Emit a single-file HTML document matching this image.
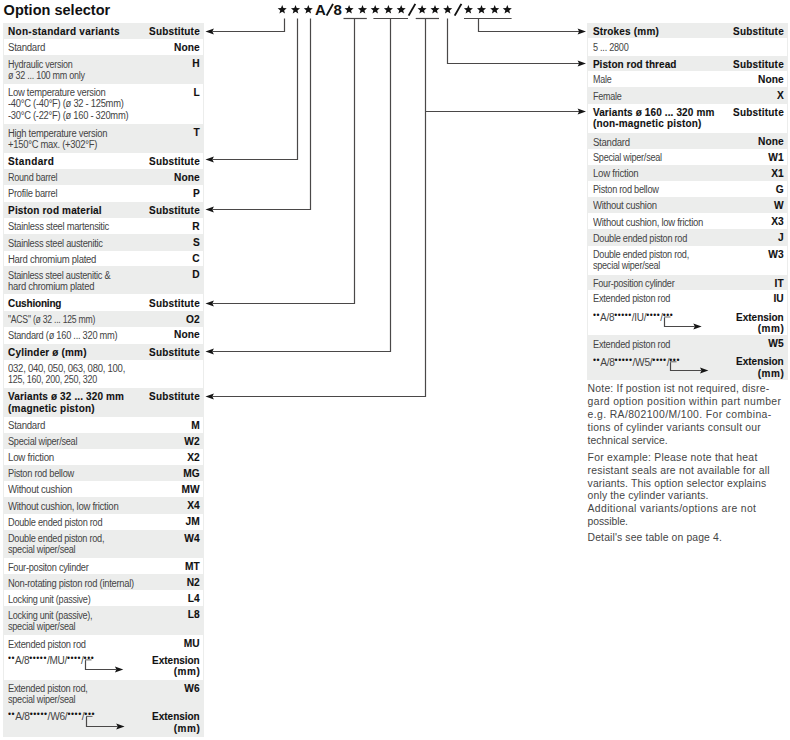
<!DOCTYPE html>
<html><head><meta charset="utf-8"><title>Option selector</title><style>
html,body{margin:0;padding:0;width:790px;height:740px;overflow:hidden;background:#fff}
.t{position:absolute;white-space:nowrap;transform-origin:0 0;font-family:"Liberation Sans",sans-serif;line-height:12px;height:12px}
.r{font-size:10.0px;color:#444444}
.b{font-size:10.0px;color:#111111;font-weight:700;-webkit-text-stroke:0.1px #111}
.n{font-size:10.4px;color:#454545}
.v{font-size:10.2px;color:#111111;font-weight:700;-webkit-text-stroke:0.1px #111}
.d{font-size:8.5px;letter-spacing:0.55px;vertical-align:3.2px;line-height:0;color:#111}
.ti{font-size:14.5px;color:#111111;font-weight:700}
.bg{position:absolute;background:#ecedec}
.wh{position:absolute;background:#fff}
svg{position:absolute;left:0;top:0}
.ln{fill:none;stroke:#4a4848;stroke-width:1.2}
.ln2{fill:none;stroke:#3c3c3c;stroke-width:0.8}
.ah{fill:#151515}
.st{fill:#121212}
.sl{stroke:#121212;stroke-width:1.9}
.code{font-family:"Liberation Sans",sans-serif;font-weight:700;font-size:15px;fill:#121212}
</style></head><body>
<div class="bg" style="left:3px;top:22.6px;width:201px;height:714.00px"></div>
<div class="wh" style="left:4px;top:39.0px;width:199px;height:16.10px"></div>
<div class="wh" style="left:4px;top:83.7px;width:199px;height:40.60px"></div>
<div class="wh" style="left:4px;top:152.9px;width:199px;height:15.80px"></div>
<div class="wh" style="left:4px;top:185.0px;width:199px;height:16.90px"></div>
<div class="wh" style="left:4px;top:218.0px;width:199px;height:16.20px"></div>
<div class="wh" style="left:4px;top:250.5px;width:199px;height:15.80px"></div>
<div class="wh" style="left:4px;top:294.4px;width:199px;height:16.60px"></div>
<div class="wh" style="left:4px;top:326.5px;width:199px;height:17.00px"></div>
<div class="wh" style="left:4px;top:359.7px;width:199px;height:28.20px"></div>
<div class="wh" style="left:4px;top:417.0px;width:199px;height:15.60px"></div>
<div class="wh" style="left:4px;top:448.8px;width:199px;height:16.00px"></div>
<div class="wh" style="left:4px;top:480.8px;width:199px;height:16.50px"></div>
<div class="wh" style="left:4px;top:513.5px;width:199px;height:16.20px"></div>
<div class="wh" style="left:4px;top:558.1px;width:199px;height:16.20px"></div>
<div class="wh" style="left:4px;top:590.1px;width:199px;height:16.20px"></div>
<div class="wh" style="left:4px;top:635.1px;width:199px;height:44.50px"></div>
<div class="bg" style="left:587px;top:23.0px;width:201px;height:356.60px"></div>
<div class="wh" style="left:588px;top:38.3px;width:199px;height:17.40px"></div>
<div class="wh" style="left:588px;top:70.9px;width:199px;height:16.40px"></div>
<div class="wh" style="left:588px;top:103.8px;width:199px;height:29.30px"></div>
<div class="wh" style="left:588px;top:148.9px;width:199px;height:15.90px"></div>
<div class="wh" style="left:588px;top:180.9px;width:199px;height:16.00px"></div>
<div class="wh" style="left:588px;top:213.2px;width:199px;height:16.20px"></div>
<div class="wh" style="left:588px;top:245.7px;width:199px;height:29.10px"></div>
<div class="wh" style="left:588px;top:290.0px;width:199px;height:45.20px"></div>
<div class="t b" style="left:8.10px;top:25.93px;letter-spacing:0.268px">Non-standard variants</div>
<div class="t b" style="right:590.10px;top:25.93px;letter-spacing:0.200px">Substitute</div>
<div class="t r" style="left:8.10px;top:42.44px;letter-spacing:-0.280px;transform:scaleX(0.9653)">Standard</div>
<div class="t v" style="right:590.25px;top:41.97px;letter-spacing:0.050px">None</div>
<div class="t r" style="left:8.10px;top:58.73px;letter-spacing:-0.280px;transform:scaleX(0.8959)">Hydraulic version</div>
<div class="t r" style="left:8.10px;top:70.03px;letter-spacing:-0.280px;transform:scaleX(0.8970)">ø 32 ... 100 mm only</div>
<div class="t v" style="right:590.25px;top:58.27px;letter-spacing:0.050px">H</div>
<div class="t r" style="left:8.10px;top:87.14px;letter-spacing:-0.280px;transform:scaleX(0.9412)">Low temperature version</div>
<div class="t r" style="left:8.10px;top:98.44px;letter-spacing:-0.280px;transform:scaleX(0.9354)">-40°C (-40°F) (ø 32 - 125mm)</div>
<div class="t r" style="left:8.10px;top:109.74px;letter-spacing:-0.280px;transform:scaleX(0.9336)">-30°C (-22°F) (ø 160 - 320mm)</div>
<div class="t v" style="right:590.25px;top:86.67px;letter-spacing:0.050px">L</div>
<div class="t r" style="left:8.10px;top:127.73px;letter-spacing:-0.280px;transform:scaleX(0.9391)">High temperature version</div>
<div class="t r" style="left:8.10px;top:139.03px;letter-spacing:-0.280px;transform:scaleX(0.9405)">+150°C max. (+302°F)</div>
<div class="t v" style="right:590.25px;top:127.27px;letter-spacing:0.050px">T</div>
<div class="t b" style="left:8.10px;top:156.24px;letter-spacing:0.351px">Standard</div>
<div class="t b" style="right:590.10px;top:156.24px;letter-spacing:0.200px">Substitute</div>
<div class="t r" style="left:8.10px;top:172.13px;letter-spacing:-0.280px;transform:scaleX(0.9062)">Round barrel</div>
<div class="t v" style="right:590.25px;top:171.67px;letter-spacing:0.050px">None</div>
<div class="t r" style="left:8.10px;top:188.44px;letter-spacing:-0.280px;transform:scaleX(0.9348)">Profile barrel</div>
<div class="t v" style="right:590.25px;top:187.97px;letter-spacing:0.050px">P</div>
<div class="t b" style="left:8.10px;top:205.24px;letter-spacing:0.162px">Piston rod material</div>
<div class="t b" style="right:590.10px;top:205.24px;letter-spacing:0.200px">Substitute</div>
<div class="t r" style="left:8.10px;top:221.44px;letter-spacing:-0.280px;transform:scaleX(0.9342)">Stainless steel martensitic</div>
<div class="t v" style="right:590.25px;top:220.97px;letter-spacing:0.050px">R</div>
<div class="t r" style="left:8.10px;top:237.63px;letter-spacing:-0.280px;transform:scaleX(0.9267)">Stainless steel austenitic</div>
<div class="t v" style="right:590.25px;top:237.17px;letter-spacing:0.050px">S</div>
<div class="t r" style="left:8.10px;top:253.93px;letter-spacing:-0.280px;transform:scaleX(0.9499)">Hard chromium plated</div>
<div class="t v" style="right:590.25px;top:253.47px;letter-spacing:0.050px">C</div>
<div class="t r" style="left:8.10px;top:269.74px;letter-spacing:-0.280px;transform:scaleX(0.9210)">Stainless steel austenitic &amp;</div>
<div class="t r" style="left:8.10px;top:281.04px;letter-spacing:-0.280px;transform:scaleX(0.9463)">hard chromium plated</div>
<div class="t v" style="right:590.25px;top:269.27px;letter-spacing:0.050px">D</div>
<div class="t b" style="left:8.10px;top:297.74px;letter-spacing:-0.178px">Cushioning</div>
<div class="t b" style="right:590.10px;top:297.74px;letter-spacing:0.200px">Substitute</div>
<div class="t r" style="left:8.10px;top:314.44px;letter-spacing:-0.280px;transform:scaleX(0.8656)">&quot;ACS&quot; (ø 32 ... 125 mm)</div>
<div class="t v" style="right:590.25px;top:313.97px;letter-spacing:0.050px">O2</div>
<div class="t r" style="left:8.10px;top:329.94px;letter-spacing:-0.280px;transform:scaleX(0.9261)">Standard (ø 160 ... 320 mm)</div>
<div class="t v" style="right:590.25px;top:329.47px;letter-spacing:0.050px">None</div>
<div class="t b" style="left:8.10px;top:346.84px;letter-spacing:0.163px">Cylinder ø (mm)</div>
<div class="t b" style="right:590.10px;top:346.84px;letter-spacing:0.200px">Substitute</div>
<div class="t r" style="left:8.10px;top:363.13px;letter-spacing:-0.280px;transform:scaleX(0.9549)">032, 040, 050, 063, 080, 100,</div>
<div class="t r" style="left:8.10px;top:374.44px;letter-spacing:-0.280px;transform:scaleX(0.8975)">125, 160, 200, 250, 320</div>
<div class="t b" style="left:8.10px;top:391.24px;letter-spacing:0.129px">Variants ø 32 ... 320 mm</div>
<div class="t b" style="left:8.10px;top:402.54px;letter-spacing:0.197px">(magnetic piston)</div>
<div class="t b" style="right:590.10px;top:391.24px;letter-spacing:0.200px">Substitute</div>
<div class="t r" style="left:8.10px;top:420.44px;letter-spacing:-0.280px;transform:scaleX(0.9653)">Standard</div>
<div class="t v" style="right:590.25px;top:419.97px;letter-spacing:0.050px">M</div>
<div class="t r" style="left:8.10px;top:436.04px;letter-spacing:-0.280px;transform:scaleX(0.9164)">Special wiper/seal</div>
<div class="t v" style="right:590.25px;top:435.57px;letter-spacing:0.050px">W2</div>
<div class="t r" style="left:8.10px;top:452.24px;letter-spacing:-0.280px;transform:scaleX(0.9727)">Low friction</div>
<div class="t v" style="right:590.25px;top:451.77px;letter-spacing:0.050px">X2</div>
<div class="t r" style="left:8.10px;top:468.24px;letter-spacing:-0.280px;transform:scaleX(0.9235)">Piston rod bellow</div>
<div class="t v" style="right:590.25px;top:467.77px;letter-spacing:0.050px">MG</div>
<div class="t r" style="left:8.10px;top:484.24px;letter-spacing:-0.280px;transform:scaleX(0.9579)">Without cushion</div>
<div class="t v" style="right:590.25px;top:483.77px;letter-spacing:0.050px">MW</div>
<div class="t r" style="left:8.10px;top:500.74px;letter-spacing:-0.280px;transform:scaleX(0.9534)">Without cushion, low friction</div>
<div class="t v" style="right:590.25px;top:500.27px;letter-spacing:0.050px">X4</div>
<div class="t r" style="left:8.10px;top:516.93px;letter-spacing:-0.280px;transform:scaleX(0.9201)">Double ended piston rod</div>
<div class="t v" style="right:590.25px;top:516.47px;letter-spacing:0.050px">JM</div>
<div class="t r" style="left:8.10px;top:533.13px;letter-spacing:-0.280px;transform:scaleX(0.9163)">Double ended piston rod,</div>
<div class="t r" style="left:8.10px;top:544.43px;letter-spacing:-0.280px;transform:scaleX(0.9114)">special wiper/seal</div>
<div class="t v" style="right:590.25px;top:532.67px;letter-spacing:0.050px">W4</div>
<div class="t r" style="left:8.10px;top:561.53px;letter-spacing:-0.280px;transform:scaleX(0.9205)">Four-positon cylinder</div>
<div class="t v" style="right:590.25px;top:561.07px;letter-spacing:0.050px">MT</div>
<div class="t r" style="left:8.10px;top:577.73px;letter-spacing:-0.280px;transform:scaleX(0.9367)">Non-rotating piston rod (internal)</div>
<div class="t v" style="right:590.25px;top:577.27px;letter-spacing:0.050px">N2</div>
<div class="t r" style="left:8.10px;top:593.53px;letter-spacing:-0.280px;transform:scaleX(0.9104)">Locking unit (passive)</div>
<div class="t v" style="right:590.25px;top:593.07px;letter-spacing:0.050px">L4</div>
<div class="t r" style="left:8.10px;top:609.73px;letter-spacing:-0.280px;transform:scaleX(0.9063)">Locking unit (passive),</div>
<div class="t r" style="left:8.10px;top:621.03px;letter-spacing:-0.280px;transform:scaleX(0.9114)">special wiper/seal</div>
<div class="t v" style="right:590.25px;top:609.27px;letter-spacing:0.050px">L8</div>
<div class="t r" style="left:8.10px;top:638.53px;letter-spacing:-0.280px;transform:scaleX(0.9294)">Extended piston rod</div>
<div class="t v" style="right:590.25px;top:638.07px;letter-spacing:0.050px">MU</div>
<div class="t r" style="left:8.10px;top:654.84px;letter-spacing:-0.280px;transform:scaleX(1.0018)"><span class="d">••</span>A/8<span class="d">•••••</span>/MU/<span class="d">••••</span>/<span class="d">•••</span></div>
<div class="t b" style="right:590.32px;top:654.53px;letter-spacing:-0.025px">Extension</div>
<div class="t b" style="right:589.78px;top:666.13px;letter-spacing:0.516px">(mm)</div>
<div class="t r" style="left:8.10px;top:683.03px;letter-spacing:-0.280px;transform:scaleX(0.9245)">Extended piston rod,</div>
<div class="t r" style="left:8.10px;top:694.33px;letter-spacing:-0.280px;transform:scaleX(0.9114)">special wiper/seal</div>
<div class="t v" style="right:590.25px;top:682.57px;letter-spacing:0.050px">W6</div>
<div class="t r" style="left:8.10px;top:711.34px;letter-spacing:-0.280px;transform:scaleX(1.0189)"><span class="d">••</span>A/8<span class="d">•••••</span>/W6/<span class="d">••••</span>/<span class="d">•••</span></div>
<div class="t b" style="right:590.32px;top:711.03px;letter-spacing:-0.025px">Extension</div>
<div class="t b" style="right:589.78px;top:722.63px;letter-spacing:0.516px">(mm)</div>
<div class="t b" style="left:592.90px;top:26.33px;letter-spacing:0.181px">Strokes (mm)</div>
<div class="t b" style="right:6.10px;top:26.33px;letter-spacing:0.200px">Substitute</div>
<div class="t r" style="left:592.90px;top:41.73px;letter-spacing:-0.280px;transform:scaleX(0.9110)">5 ... 2800</div>
<div class="t b" style="left:592.90px;top:59.03px;letter-spacing:0.044px">Piston rod thread</div>
<div class="t b" style="right:6.10px;top:59.03px;letter-spacing:0.200px">Substitute</div>
<div class="t r" style="left:592.90px;top:74.34px;letter-spacing:-0.280px;transform:scaleX(0.8924)">Male</div>
<div class="t v" style="right:6.25px;top:73.87px;letter-spacing:0.050px">None</div>
<div class="t r" style="left:592.90px;top:90.73px;letter-spacing:-0.280px;transform:scaleX(0.8982)">Female</div>
<div class="t v" style="right:6.25px;top:90.27px;letter-spacing:0.050px">X</div>
<div class="t b" style="left:592.90px;top:107.13px;letter-spacing:0.125px">Variants ø 160 ... 320 mm</div>
<div class="t b" style="left:592.90px;top:118.43px;letter-spacing:0.175px">(non-magnetic piston)</div>
<div class="t b" style="right:6.10px;top:107.13px;letter-spacing:0.200px">Substitute</div>
<div class="t r" style="left:592.90px;top:136.53px;letter-spacing:-0.280px;transform:scaleX(0.9576)">Standard</div>
<div class="t v" style="right:6.25px;top:136.07px;letter-spacing:0.050px">None</div>
<div class="t r" style="left:592.90px;top:152.34px;letter-spacing:-0.280px;transform:scaleX(0.9111)">Special wiper/seal</div>
<div class="t v" style="right:6.25px;top:151.87px;letter-spacing:0.050px">W1</div>
<div class="t r" style="left:592.90px;top:168.24px;letter-spacing:-0.280px;transform:scaleX(0.9621)">Low friction</div>
<div class="t v" style="right:6.25px;top:167.77px;letter-spacing:0.050px">X1</div>
<div class="t r" style="left:592.90px;top:184.34px;letter-spacing:-0.280px;transform:scaleX(0.9193)">Piston rod bellow</div>
<div class="t v" style="right:6.25px;top:183.87px;letter-spacing:0.050px">G</div>
<div class="t r" style="left:592.90px;top:200.34px;letter-spacing:-0.280px;transform:scaleX(0.9519)">Without cushion</div>
<div class="t v" style="right:6.25px;top:199.87px;letter-spacing:0.050px">W</div>
<div class="t r" style="left:592.90px;top:216.63px;letter-spacing:-0.280px;transform:scaleX(0.9508)">Without cushion, low friction</div>
<div class="t v" style="right:6.25px;top:216.17px;letter-spacing:0.050px">X3</div>
<div class="t r" style="left:592.90px;top:232.84px;letter-spacing:-0.280px;transform:scaleX(0.9172)">Double ended piston rod</div>
<div class="t v" style="right:6.25px;top:232.37px;letter-spacing:0.050px">J</div>
<div class="t r" style="left:592.90px;top:249.13px;letter-spacing:-0.280px;transform:scaleX(0.9135)">Double ended piston rod,</div>
<div class="t r" style="left:592.90px;top:260.44px;letter-spacing:-0.280px;transform:scaleX(0.9074)">special wiper/seal</div>
<div class="t v" style="right:6.25px;top:248.67px;letter-spacing:0.050px">W3</div>
<div class="t r" style="left:592.90px;top:278.24px;letter-spacing:-0.280px;transform:scaleX(0.9106)">Four-position cylinder</div>
<div class="t v" style="right:6.25px;top:277.77px;letter-spacing:0.050px">IT</div>
<div class="t r" style="left:592.90px;top:293.44px;letter-spacing:-0.280px;transform:scaleX(0.9223)">Extended piston rod</div>
<div class="t v" style="right:6.25px;top:292.97px;letter-spacing:0.050px">IU</div>
<div class="t r" style="left:592.90px;top:311.94px;letter-spacing:-0.280px;transform:scaleX(0.9965)"><span class="d">••</span>A/8<span class="d">•••••</span>/IU/<span class="d">••••</span>/<span class="d">•••</span></div>
<div class="t b" style="right:6.32px;top:311.63px;letter-spacing:-0.025px">Extension</div>
<div class="t b" style="right:5.78px;top:323.24px;letter-spacing:0.516px">(mm)</div>
<div class="t r" style="left:592.90px;top:338.63px;letter-spacing:-0.280px;transform:scaleX(0.9223)">Extended piston rod</div>
<div class="t v" style="right:6.25px;top:338.17px;letter-spacing:0.050px">W5</div>
<div class="t r" style="left:592.90px;top:356.74px;letter-spacing:-0.280px;transform:scaleX(1.0177)"><span class="d">••</span>A/8<span class="d">•••••</span>/W5/<span class="d">••••</span>/<span class="d">•••</span></div>
<div class="t b" style="right:6.32px;top:356.44px;letter-spacing:-0.025px">Extension</div>
<div class="t b" style="right:5.78px;top:368.04px;letter-spacing:0.516px">(mm)</div>
<div class="t ti" style="left:3.60px;top:4.28px;letter-spacing:0.017px">Option selector</div>
<div class="t n" style="left:587.60px;top:383.20px;letter-spacing:0.206px">Note: If postion ist not required, disre-</div>
<div class="t n" style="left:587.60px;top:396.10px;letter-spacing:0.377px">gard option position within part number</div>
<div class="t n" style="left:587.60px;top:408.90px;letter-spacing:0.383px">e.g. RA/802100/M/100. For combina-</div>
<div class="t n" style="left:587.60px;top:421.70px;letter-spacing:0.217px">tions of cylinder variants consult our</div>
<div class="t n" style="left:587.60px;top:434.60px;letter-spacing:0.023px">technical service.</div>
<div class="t n" style="left:587.60px;top:451.80px;letter-spacing:0.241px">For example: Please note that heat</div>
<div class="t n" style="left:587.60px;top:464.70px;letter-spacing:0.206px">resistant seals are not available for all</div>
<div class="t n" style="left:587.60px;top:477.50px;letter-spacing:0.143px">variants. This option selector explains</div>
<div class="t n" style="left:587.60px;top:490.30px;letter-spacing:0.140px">only the cylinder variants.</div>
<div class="t n" style="left:587.60px;top:502.50px;letter-spacing:0.349px">Additional variants/options are not</div>
<div class="t n" style="left:587.60px;top:516.00px;letter-spacing:-0.077px">possible.</div>
<div class="t n" style="left:587.60px;top:532.20px;letter-spacing:0.121px">Detail's see table on page 4.</div>
<svg width="790" height="740" viewBox="0 0 790 740">
<path d="M85.00 659.90H91.50" class="ln2"/>
<path d="M85.50 660.30V669.50H116.30" class="ln"/>
<path d="M123.30 669.50L114.90 666.50L116.40 669.50L114.90 672.50Z" class="ah"/>
<path d="M86.00 716.40H92.50" class="ln2"/>
<path d="M86.50 716.80V726.50H117.60" class="ln"/>
<path d="M124.60 726.50L116.20 723.50L117.70 726.50L116.20 729.50Z" class="ah"/>
<path d="M664.00 317.00H670.50" class="ln2"/>
<path d="M664.50 317.40V326.50H694.70" class="ln"/>
<path d="M701.70 326.50L693.30 323.50L694.80 326.50L693.30 329.50Z" class="ah"/>
<path d="M670.00 361.80H676.50" class="ln2"/>
<path d="M670.50 362.20V370.50H701.40" class="ln"/>
<path d="M708.40 370.50L700.00 367.50L701.50 370.50L700.00 373.50Z" class="ah"/>
<polygon points="282.20,5.00 283.40,8.09 286.72,8.28 284.15,10.38 284.99,13.59 282.20,11.80 279.41,13.59 280.25,10.38 277.68,8.28 281.00,8.09" class="st"/>
<polygon points="295.50,5.00 296.70,8.09 300.02,8.28 297.45,10.38 298.29,13.59 295.50,11.80 292.71,13.59 293.55,10.38 290.98,8.28 294.30,8.09" class="st"/>
<polygon points="308.30,5.00 309.50,8.09 312.82,8.28 310.25,10.38 311.09,13.59 308.30,11.80 305.51,13.59 306.35,10.38 303.78,8.28 307.10,8.09" class="st"/>
<polygon points="349.10,5.00 350.30,8.09 353.62,8.28 351.05,10.38 351.89,13.59 349.10,11.80 346.31,13.59 347.15,10.38 344.58,8.28 347.90,8.09" class="st"/>
<polygon points="362.50,5.00 363.70,8.09 367.02,8.28 364.45,10.38 365.29,13.59 362.50,11.80 359.71,13.59 360.55,10.38 357.98,8.28 361.30,8.09" class="st"/>
<polygon points="375.20,5.00 376.40,8.09 379.72,8.28 377.15,10.38 377.99,13.59 375.20,11.80 372.41,13.59 373.25,10.38 370.68,8.28 374.00,8.09" class="st"/>
<polygon points="388.40,5.00 389.60,8.09 392.92,8.28 390.35,10.38 391.19,13.59 388.40,11.80 385.61,13.59 386.45,10.38 383.88,8.28 387.20,8.09" class="st"/>
<polygon points="401.20,5.00 402.40,8.09 405.72,8.28 403.15,10.38 403.99,13.59 401.20,11.80 398.41,13.59 399.25,10.38 396.68,8.28 400.00,8.09" class="st"/>
<polygon points="422.10,5.00 423.30,8.09 426.62,8.28 424.05,10.38 424.89,13.59 422.10,11.80 419.31,13.59 420.15,10.38 417.58,8.28 420.90,8.09" class="st"/>
<polygon points="435.00,5.00 436.20,8.09 439.52,8.28 436.95,10.38 437.79,13.59 435.00,11.80 432.21,13.59 433.05,10.38 430.48,8.28 433.80,8.09" class="st"/>
<polygon points="447.70,5.00 448.90,8.09 452.22,8.28 449.65,10.38 450.49,13.59 447.70,11.80 444.91,13.59 445.75,10.38 443.18,8.28 446.50,8.09" class="st"/>
<polygon points="468.40,5.00 469.60,8.09 472.92,8.28 470.35,10.38 471.19,13.59 468.40,11.80 465.61,13.59 466.45,10.38 463.88,8.28 467.20,8.09" class="st"/>
<polygon points="481.50,5.00 482.70,8.09 486.02,8.28 483.45,10.38 484.29,13.59 481.50,11.80 478.71,13.59 479.55,10.38 476.98,8.28 480.30,8.09" class="st"/>
<polygon points="494.70,5.00 495.90,8.09 499.22,8.28 496.65,10.38 497.49,13.59 494.70,11.80 491.91,13.59 492.75,10.38 490.18,8.28 493.50,8.09" class="st"/>
<polygon points="507.30,5.00 508.50,8.09 511.82,8.28 509.25,10.38 510.09,13.59 507.30,11.80 504.51,13.59 505.35,10.38 502.78,8.28 506.10,8.09" class="st"/>
<text x="315.0" y="14.9" class="code">A</text>
<text x="333.6" y="14.9" class="code">8</text>
<line x1="326.6" y1="15.6" x2="333.0" y2="3.9" class="sl"/>
<line x1="408.6" y1="15.6" x2="415.3" y2="3.9" class="sl"/>
<line x1="454.7" y1="15.6" x2="461.4" y2="3.9" class="sl"/>
<path d="M343.5 18.5H366.8" class="ln"/>
<path d="M373.4 18.5H408.0" class="ln"/>
<path d="M415.7 18.5H439.0" class="ln"/>
<path d="M464.0 18.5H511.6" class="ln"/>
<path d="M284.5 18.5V31.5H212.5" class="ln"/>
<path d="M205.50 31.50L213.90 28.50L212.40 31.50L213.90 34.50Z" class="ah"/>
<path d="M297.5 18.5V159.5H212.5" class="ln"/>
<path d="M205.50 159.50L213.90 156.50L212.40 159.50L213.90 162.50Z" class="ah"/>
<path d="M310.5 18.5V209.5H212.5" class="ln"/>
<path d="M205.50 209.50L213.90 206.50L212.40 209.50L213.90 212.50Z" class="ah"/>
<path d="M354.5 18.5V303.5H212.5" class="ln"/>
<path d="M205.50 303.50L213.90 300.50L212.40 303.50L213.90 306.50Z" class="ah"/>
<path d="M390.5 18.5V351.5H212.5" class="ln"/>
<path d="M205.50 351.50L213.90 348.50L212.40 351.50L213.90 354.50Z" class="ah"/>
<path d="M425.5 18.5V396.5H212.5" class="ln"/>
<path d="M205.50 396.50L213.90 393.50L212.40 396.50L213.90 399.50Z" class="ah"/>
<path d="M425.5 111.5H579.0" class="ln"/>
<path d="M586.00 111.50L577.60 108.50L579.10 111.50L577.60 114.50Z" class="ah"/>
<path d="M447.5 18.5V63.5H579.0" class="ln"/>
<path d="M586.00 63.50L577.60 60.50L579.10 63.50L577.60 66.50Z" class="ah"/>
<path d="M478.5 18.5V31.5H579.0" class="ln"/>
<path d="M586.00 31.50L577.60 28.50L579.10 31.50L577.60 34.50Z" class="ah"/>
</svg>
</body></html>
